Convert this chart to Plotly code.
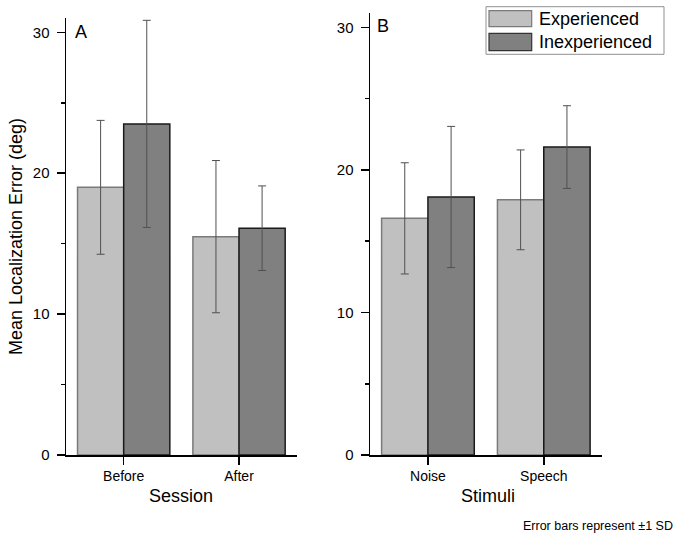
import plotly.graph_objects as go

# ---------------- data ----------------
series_names = ["Experienced", "Inexperienced"]
session_cats = ["Before", "After"]
session_exp = [19.0, 15.5]
session_exp_sd = [4.75, 5.4]
session_inexp = [23.5, 16.1]
session_inexp_sd = [7.35, 3.0]

stimuli_cats = ["Noise", "Speech"]
stimuli_exp = [16.6, 17.9]
stimuli_exp_sd = [3.9, 3.5]
stimuli_inexp = [18.1, 21.6]
stimuli_inexp_sd = [4.95, 2.9]

y_ticks = [0, 10, 20, 30]
panel_labels = ["A", "B"]
x_titles = ["Session", "Stimuli"]
y_title = "Mean Localization Error (deg)"
footnote = "Error bars represent \u00b11 SD"

# ---------------- style ----------------
W, H = 683, 539
SY = 0.985  # vertical compensation
FONT = "Liberation Sans, Arial, sans-serif"
LIGHT = "#c0c0c0"
DARK = "#808080"
LIGHT_LINE = "#7a7a7a"
DARK_LINE = "#1a1a1a"
ERR = "#505050"


def px(x):
    return x / W


def py(y):
    return 1 - (y / SY) / H


fig = go.Figure()

panels = [
    (session_cats, session_exp, session_exp_sd, session_inexp, session_inexp_sd, "x", "y"),
    (stimuli_cats, stimuli_exp, stimuli_exp_sd, stimuli_inexp, stimuli_inexp_sd, "x2", "y2"),
]
for cats, e, esd, ie, iesd, xa, ya in panels:
    fig.add_trace(go.Bar(
        x=cats, y=e, name=series_names[0], xaxis=xa, yaxis=ya,
        marker=dict(color=LIGHT, line=dict(color=LIGHT_LINE, width=1.5)),
        error_y=dict(type="data", array=esd, color=ERR, thickness=1, width=4),
        showlegend=False, hoverinfo="skip",
    ))
    fig.add_trace(go.Bar(
        x=cats, y=ie, name=series_names[1], xaxis=xa, yaxis=ya,
        marker=dict(color=DARK, line=dict(color=DARK_LINE, width=1.5)),
        error_y=dict(type="data", array=iesd, color=ERR, thickness=1, width=4),
        showlegend=False, hoverinfo="skip",
    ))

xcommon = dict(
    showline=True, linecolor="black", linewidth=1.5, ticks="outside", ticklen=8,
    tickcolor="black", tickwidth=1.5, range=[-0.5, 1.5], showgrid=False,
    tickfont=dict(family=FONT, size=14, color="black"), zeroline=False,
)
ycommon = dict(
    showline=True, linecolor="black", linewidth=1.5, ticks="outside", ticklen=8,
    tickcolor="black", tickwidth=1.5, range=[0, 31], showgrid=False,
    tickvals=y_ticks, tickfont=dict(family=FONT, size=15, color="black"),
    zeroline=False, ticklabelstandoff=4,
    minor=dict(dtick=5, ticks="outside", ticklen=4, tickcolor="black", tickwidth=1.5, showgrid=False),
)

A_bottom = 455
A_top = 455 - 31 * 14.09
B_top = 455 - 31 * 14.257

fig.update_layout(
    width=W, height=H,
    margin=dict(l=0, r=0, t=0, b=0),
    paper_bgcolor="white", plot_bgcolor="white",
    barmode="group", bargap=0.2, bargroupgap=0,
    xaxis=dict(domain=[px(66), px(296.7)], anchor="y", **xcommon),
    yaxis=dict(domain=[py(A_bottom), py(A_top)], anchor="x", **ycommon),
    xaxis2=dict(domain=[px(370), px(601.7)], anchor="y2", **xcommon),
    yaxis2=dict(domain=[py(A_bottom), py(B_top)], anchor="x2", **ycommon),
    showlegend=False,
)

annotations = []
# panel labels
annotations.append(dict(x=px(73), y=py(32), xref="paper", yref="paper", text=panel_labels[0],
                        xanchor="left", yanchor="middle", showarrow=False,
                        font=dict(family=FONT, size=18, color="black")))
annotations.append(dict(x=px(375.5), y=py(25.7), xref="paper", yref="paper", text=panel_labels[1],
                        xanchor="left", yanchor="middle", showarrow=False,
                        font=dict(family=FONT, size=18, color="black")))
# axis titles
annotations.append(dict(x=px(181), y=py(496), xref="paper", yref="paper", text=x_titles[0],
                        xanchor="center", yanchor="middle", showarrow=False,
                        font=dict(family=FONT, size=18, color="black")))
annotations.append(dict(x=px(487.7), y=py(496), xref="paper", yref="paper", text=x_titles[1],
                        xanchor="center", yanchor="middle", showarrow=False,
                        font=dict(family=FONT, size=18, color="black")))
annotations.append(dict(x=px(16), y=py(237), xref="paper", yref="paper", text=y_title,
                        xanchor="center", yanchor="middle", showarrow=False, textangle=-90,
                        font=dict(family=FONT, size=18, color="black")))
# footnote
annotations.append(dict(x=px(675), y=py(525.7), xref="paper", yref="paper", text=footnote,
                        xanchor="right", yanchor="middle", showarrow=False,
                        font=dict(family=FONT, size=12.5, color="black")))
# legend text
annotations.append(dict(x=px(537), y=py(18.7), xref="paper", yref="paper", text=series_names[0],
                        xanchor="left", yanchor="middle", showarrow=False,
                        font=dict(family=FONT, size=18, color="black")))
annotations.append(dict(x=px(537), y=py(42.3), xref="paper", yref="paper", text=series_names[1],
                        xanchor="left", yanchor="middle", showarrow=False,
                        font=dict(family=FONT, size=18, color="black")))

shapes = [
    dict(type="rect", xref="paper", yref="paper", x0=px(486), x1=px(664), y0=py(54.3), y1=py(6.7),
         line=dict(color="#909090", width=1), fillcolor="white", layer="above"),
    dict(type="rect", xref="paper", yref="paper", x0=px(489), x1=px(531.7), y0=py(26.7), y1=py(10.7),
         line=dict(color=LIGHT_LINE, width=1.2), fillcolor=LIGHT, layer="above"),
    dict(type="rect", xref="paper", yref="paper", x0=px(489), x1=px(531.7), y0=py(50.7), y1=py(33.3),
         line=dict(color="#333333", width=1.2), fillcolor=DARK, layer="above"),
]

fig.update_layout(annotations=annotations, shapes=shapes)

page_fix = (
    "var s=document.documentElement.style;s.margin='0';s.padding='0';s.overflow='hidden';"
    "s.height='539px';"
    "var b=document.body.style;b.margin='0';b.padding='0';b.overflow='hidden';b.height='539px';"
)
fig.write_html("out.html", config={"displayModeBar": False, "staticPlot": True},
               post_script=page_fix)
